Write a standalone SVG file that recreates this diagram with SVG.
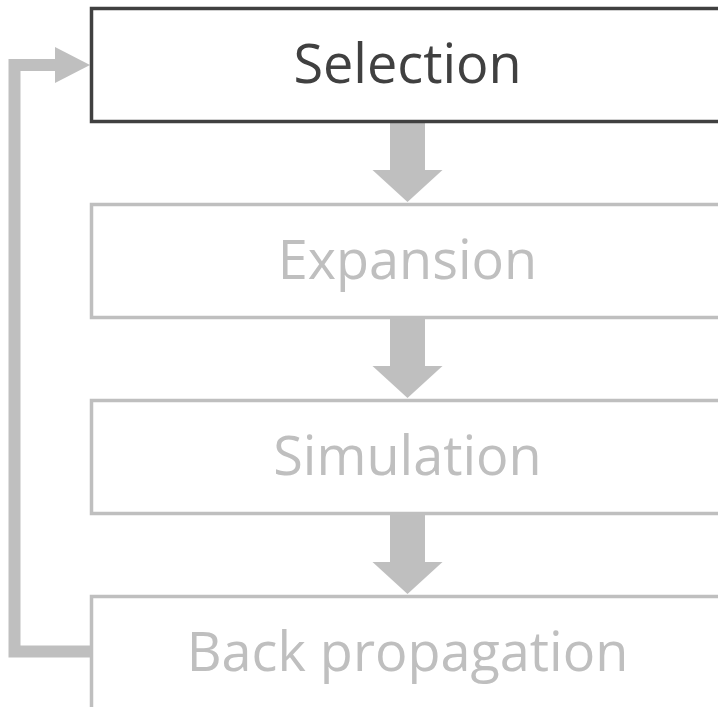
<svg xmlns="http://www.w3.org/2000/svg" width="718" height="707" viewBox="0 0 718 707">
  <style>
    .box { fill: #ffffff; stroke-width: 3.5; }
    .active .box { stroke: #404040; }
    .idle .box { stroke: #bfbfbf; }
    .label { font-family: "Open Sans", "Noto Sans", "Liberation Sans", sans-serif; font-size: 54px; text-anchor: middle; }
    .active .label { fill: #404040; }
    .idle .label { fill: #bfbfbf; }
    .flow { fill: #bfbfbf; stroke: none; }
    .loop { fill: none; stroke: #bfbfbf; stroke-width: 12; stroke-linejoin: miter; }
  </style>
  <defs>
    <!-- thick down arrow between stages -->
    <polygon id="down" points="-17.5,0 17.5,0 17.5,48 35,48 0,80 -35,48 -17.5,48"/>
  </defs>
  <rect width="718" height="707" fill="#ffffff"/>

  <g id="connectors">
    <use href="#down" class="flow" x="407.5" y="122"/>
    <use href="#down" class="flow" x="407.5" y="318"/>
    <use href="#down" class="flow" x="407.5" y="514"/>
    <!-- feedback loop from Back propagation to Selection -->
    <polyline class="loop" points="91,651.5 14.5,651.5 14.5,65 56,65"/>
    <polygon class="flow" points="55,47 90,65 55,83"/>
  </g>

  <g id="selection" class="active">
    <rect class="box" x="91.5" y="8.5" width="640" height="113"/>
    <text class="label" x="407.5" y="83">Selection</text>
  </g>
  <g id="expansion" class="idle">
    <rect class="box" x="91.5" y="204.5" width="640" height="113"/>
    <text class="label" x="407.5" y="279">Expansion</text>
  </g>
  <g id="simulation" class="idle">
    <rect class="box" x="91.5" y="400.5" width="640" height="113"/>
    <text class="label" x="407.5" y="475">Simulation</text>
  </g>
  <g id="back-propagation" class="idle">
    <rect class="box" x="91.5" y="596.5" width="640" height="113"/>
    <text class="label" x="407.5" y="671">Back propagation</text>
  </g>
</svg>
